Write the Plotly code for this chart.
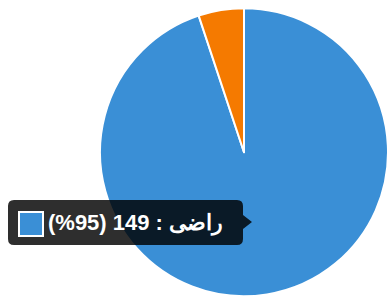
import plotly.graph_objects as go

labels = ["راضی", "ناراضی"]
values = [149, 8]
colors = ["#3a8fd6", "#f57a00"]

W, H = 389, 300

def px(x, y):
    return f"{x / W:.5f},{1 - y / H:.5f}"

total = sum(values)
idx = 0
pct = round(values[idx] / total * 100)
tip_text = f"<b>(%{pct}) {values[idx]} : {labels[idx]}</b>"

fig = go.Figure(go.Pie(
    labels=labels, values=values, sort=False, direction="clockwise",
    marker=dict(colors=colors, line=dict(color="white", width=2)),
    textinfo="none", hoverinfo="skip", showlegend=False,
    domain=dict(x=[100 / W, 388 / W], y=[0.01, 0.975]),
))

# tooltip box with arrow
x0, x1, y0, y1, r = 8, 243, 200, 245, 6
tipx, tipy, ah = 252, 222, 7
path = (f"M {px(x0 + r, y0)} L {px(x1 - r, y0)} Q {px(x1, y0)} {px(x1, y0 + r)} "
        f"L {px(x1, tipy - ah)} L {px(tipx, tipy)} L {px(x1, tipy + ah)} "
        f"L {px(x1, y1 - r)} Q {px(x1, y1)} {px(x1 - r, y1)} L {px(x0 + r, y1)} "
        f"Q {px(x0, y1)} {px(x0, y1 - r)} L {px(x0, y0 + r)} Q {px(x0, y0)} {px(x0 + r, y0)} Z")
shapes = [
    dict(type="path", xref="paper", yref="paper", path=path,
         fillcolor="rgba(0,0,0,0.82)", line=dict(width=0), layer="above"),
    dict(type="rect", xref="paper", yref="paper",
         x0=19 / W, x1=43 / W, y0=1 - 236 / H, y1=1 - 212 / H,
         fillcolor=colors[idx], line=dict(color="white", width=2), layer="above"),
]

fig.update_layout(
    width=W, height=H, margin=dict(l=0, r=0, t=0, b=0),
    paper_bgcolor="white", plot_bgcolor="white",
    shapes=shapes,
    annotations=[dict(
        text=tip_text, xref="paper", yref="paper", x=46 / W, y=1 - 223 / H,
        xanchor="left", yanchor="middle", showarrow=False,
        font=dict(family="Liberation Sans, Arial", size=22, color="white"),
    )],
)

fig.write_html("out.html", config={"displayModeBar": False},
               post_script="document.body.style.margin='0';")
